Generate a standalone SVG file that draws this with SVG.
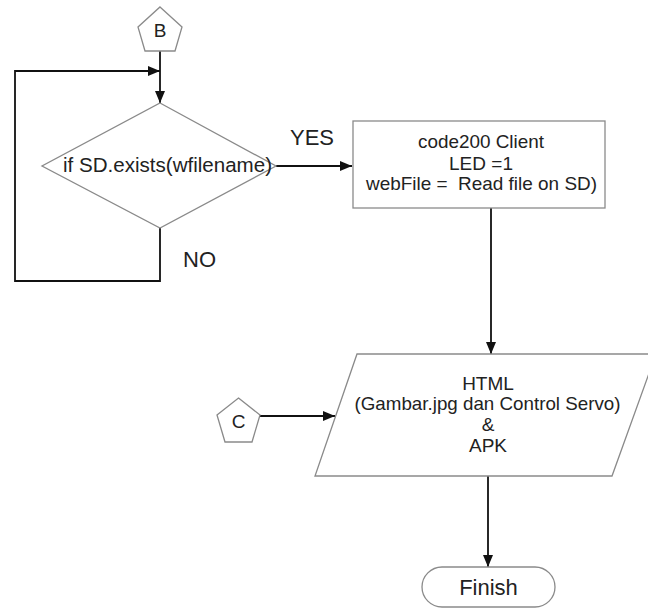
<svg xmlns="http://www.w3.org/2000/svg" width="648" height="608" viewBox="0 0 648 608">
  <style>
    .shape { fill: #ffffff; stroke: #8a8a8a; stroke-width: 1.3; }
    .conn { fill: none; stroke: #111111; stroke-width: 1.8; }
    text { font-family: "Liberation Sans", Arial, sans-serif; fill: #222222; text-anchor: middle; }
    .lbl { font-size: 22px; text-anchor: start; }
    .body { font-size: 19px; }
    .conn-lbl { font-size: 19px; }
  </style>
  <defs>
    <marker id="arrow" markerUnits="userSpaceOnUse" markerWidth="13" markerHeight="11" refX="12" refY="5" orient="auto">
      <path d="M0,0 L12,5 L0,10 z" fill="#111111"/>
    </marker>
  </defs>

  <rect width="648" height="608" fill="#ffffff"/>

  <!-- connectors -->
  <g id="connectors">
    <path class="conn" d="M160,51 V103" marker-end="url(#arrow)"/>
    <path class="conn" d="M160,228 V281 H15 V71 H160" marker-end="url(#arrow)"/>
    <path class="conn" d="M276,166 H352" marker-end="url(#arrow)"/>
    <path class="conn" d="M491,208 V354" marker-end="url(#arrow)"/>
    <path class="conn" d="M260,416 H335" marker-end="url(#arrow)"/>
    <path class="conn" d="M488,476 V567" marker-end="url(#arrow)"/>
    <text class="lbl" x="290" y="145">YES</text>
    <text class="lbl" x="183" y="267">NO</text>
  </g>

  <!-- off-page connector B -->
  <g id="connector-b">
    <polygon class="shape" points="160,7 182,27 175,51 145,51 138,27"/>
    <text class="conn-lbl" x="160" y="37">B</text>
  </g>

  <!-- decision: file present on SD card -->
  <g id="decision-sd">
    <polygon class="shape" points="160,103 276,166 160,228 42,166"/>
    <text x="167.5" y="172" font-size="20.5" textLength="209" lengthAdjust="spacingAndGlyphs">if SD.exists(wfilename)</text>
  </g>

  <!-- process: send file to client -->
  <g id="process-client">
    <rect class="shape" x="353" y="121" width="252" height="87"/>
    <text class="body" x="481" y="148" textLength="126" lengthAdjust="spacingAndGlyphs">code200 Client</text>
    <text class="body" x="481" y="170">LED =1</text>
    <text class="body" x="481.5" y="190" xml:space="preserve" textLength="231" lengthAdjust="spacingAndGlyphs">webFile =  Read file on SD)</text>
  </g>

  <!-- off-page connector C -->
  <g id="connector-c">
    <polygon class="shape" points="238.5,398 260,415 252,442 225,442 217,415"/>
    <text class="conn-lbl" x="238.5" y="428">C</text>
  </g>

  <!-- output: web page and app -->
  <g id="output-html">
    <polygon class="shape" points="357,354 656,354 612,476 315,476"/>
    <text class="body" x="488" y="390">HTML</text>
    <text class="body" x="487.5" y="410" textLength="266" lengthAdjust="spacingAndGlyphs">(Gambar.jpg dan Control Servo)</text>
    <text class="body" x="488" y="431">&amp;</text>
    <text class="body" x="488" y="452">APK</text>
  </g>

  <!-- terminator -->
  <g id="finish">
    <rect class="shape" x="422" y="567" width="133" height="40" rx="20" ry="20"/>
    <text x="488.5" y="595" font-size="22">Finish</text>
  </g>
</svg>
